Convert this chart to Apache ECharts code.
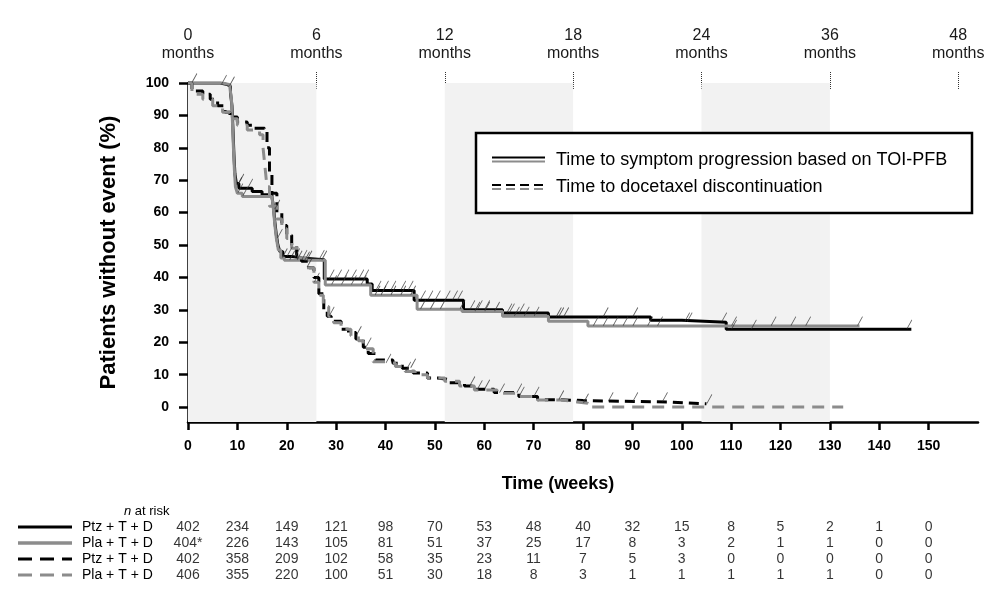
<!DOCTYPE html>
<html><head><meta charset="utf-8">
<script src="https://cdn.jsdelivr.net/npm/echarts@6/dist/echarts.min.js"></script>
<style>html,body{margin:0;padding:0;background:#fff}#c{width:1005px;height:597px}</style>
</head><body><div id="c"></div><script>
// ---------- data ----------
const weekTicks = [0,10,20,30,40,50,60,70,80,90,100,110,120,130,140,150];
const pctTicks = [0,10,20,30,40,50,60,70,80,90,100];
const monthWeeks = [0,26,52,78,104,130,156];
const monthLabels = ['0','6','12','18','24','36','48'];
const bandRanges = [[0,26],[52,78],[104,130]];

// Time to symptom progression (TOI-PFB) – [week, % without event]
const toiPtz = [[0,100],[6.5,99.5],[8,99],[8.6,97],[8.9,93],[9.1,86],[9.3,78],[9.5,72],[9.8,69],[10.3,67.5],[13,66.5],[15,65.5],[17,64.8],[17.3,62],[17.6,57],[17.9,53],[18.2,50],[18.6,48],[19.2,46.5],[21,46],[23,45.5],[27.6,39.5],[36.3,38],[37.3,36],[45.8,33],[55.8,30],[63.7,29],[73,27.8],[93.7,26.8],[100,26.2],[109,24],[146.5,24]];
const toiPla = [[0,100],[7,99.5],[8.5,98.5],[8.8,95],[9.0,88],[9.2,80],[9.4,73],[9.6,68],[10,66],[11,65],[17,64.5],[17.3,61],[17.6,56],[17.9,52],[18.3,48.5],[18.8,46],[19.5,45.3],[27.8,37.7],[37,34.5],[46.4,30.2],[55.5,29.5],[63.7,28],[73,26.5],[81,25],[136,25]];
// Time to docetaxel discontinuation
const docPtz = [[0,100],[0.8,97.5],[3,96.5],[4.5,95],[6,93],[7.5,91],[8.5,89.5],[10,88],[12,87],[13,86],[15.5,85],[16,80],[16.5,72],[17,66],[18,60],[19,56],[20,53],[21,50],[22,47],[23,45],[24.5,43],[25.5,40],[26.5,35],[27.5,30],[28.2,28],[29,26.5],[31,24],[32.5,23],[34,21],[35.5,18.5],[36.5,16.5],[38,14.5],[41.5,13.5],[43.4,12],[45.6,10.5],[48.5,9],[50.5,8.5],[53,7.5],[56,6.5],[58,5.5],[62,4.5],[67,3.3],[70.8,2.3],[75,2],[80,1.6],[97,1.0],[105,1.0]];
const docPla = [[0,100],[0.8,96.5],[3,95],[5,93],[7,91],[8.5,89],[10,87],[12,85.5],[14.5,84],[15.2,80],[15.6,74],[16,68],[16.5,62],[18,58],[19,55],[20,52],[21,49],[22.5,46],[24,43],[25.5,38.5],[26.5,34.5],[27.4,31],[28.5,28],[29.5,26],[31,24],[33,22],[34.5,20.5],[35.5,18],[37.5,14],[40,13.5],[42,12.5],[44,11],[46,10],[48.5,9],[52,8],[55,6.5],[58,5.3],[62.6,4.3],[67,3.3],[70.8,2.2],[75.5,1.6],[78.8,1.2],[81,0],[132.7,0]];

// censoring times (weeks)
const censPtzToi = [0.7,6.7,8.3,10.2,12,20,21.5,23,26.5,28.5,30,31.5,33,34.5,35.5,38,39.5,41,43,44.5,47,48.5,50,52,53.5,54.5,57,58.5,60,64.5,65,67,74.5,75,76,84,90,100.5,101,108,110,114,145.5];
const censPlaToi = [9.8,10,11,17.5,18,19,20.5,22,24,27,29,31,33,35,37.8,39,41,43,45,47,49,51,55,58,60,62,66,68,70,82,84,86,88,90,93,95,110,118,122,125,135.5];
const censPtzDoc = [23.5,36,45,57,60,67,85,90,96,105];
const censPlaDoc = [24,25.5,28.5,34,40,44,58.5,63,66.5,70,75,80];

// n at risk
const riskWeeks = [0,10,20,30,40,50,60,70,80,90,100,110,120,130,140,150];
const riskNames = ['Ptz + T + D','Pla + T + D','Ptz + T + D','Pla + T + D'];
const riskPtzToi = ['402','234','149','121','98','70','53','48','40','32','15','8','5','2','1','0'];
const riskPlaToi = ['404*','226','143','105','81','51','37','25','17','8','3','2','1','1','0','0'];
const riskPtzDoc = ['402','358','209','102','58','35','23','11','7','5','3','0','0','0','0','0'];
const riskPlaDoc = ['406','355','220','100','51','30','18','8','3','1','1','1','1','1','0','0'];

// ---------- chart ----------
const FONT = '"Liberation Sans", Arial, Helvetica, sans-serif';
const BLACK = '#000000', GREY = '#8c8c8c';
function valueAt(curve, t){ let v = curve[0][1]; for (const p of curve){ if (p[0] <= t) v = p[1]; } return v; }
function censorSeries(curve, times){
  return {type:'scatter', xAxisIndex:0, yAxisIndex:0, z:4, silent:true,
    symbol:'path://M0,10L5,0', symbolSize:[5,9], symbolOffset:[3,-5],
    itemStyle:{color:'rgba(0,0,0,0)', borderColor:'#333', borderWidth:0.9},
    data: times.map(t => [t, valueAt(curve, t)])};
}
function kmSeries(data, color, width, dash){
  return {type:'line', xAxisIndex:0, yAxisIndex:0, step:'end', showSymbol:false, symbol:'none', z:3, silent:true,
    lineStyle:{color, width, type: dash || 'solid', cap:'butt'}, data};
}
function riskSeries(row, values){
  return {type:'scatter', xAxisIndex:2, yAxisIndex:2, symbolSize:1, silent:true,
    itemStyle:{color:'rgba(0,0,0,0)'},
    label:{show:true, position:'inside', fontFamily:FONT, fontSize:14, color:'#000',
      formatter: p => values[p.dataIndex]},
    data: riskWeeks.map(w => [w, row])};
}

const chart = echarts.init(document.getElementById('c'), null, {renderer:'canvas'});
const option = {
  animation:false,
  backgroundColor:'#ffffff',
  textStyle:{fontFamily:FONT},
  grid:[
    {left:188, right:27, top:83, height:339},
    {left:188, right:27, top:72, height:18},
    {left:188, right:27, top:519, height:64}
  ],
  xAxis:[
    {gridIndex:0, type:'value', min:0, max:160,
      axisLine:{show:true, onZero:false, lineStyle:{color:'#000', width:2.5}},
      axisTick:{show:true, inside:false, customValues:weekTicks, length:8, lineStyle:{color:'#000', width:2.5}},
      axisLabel:{customValues:weekTicks, fontFamily:FONT, fontWeight:'bold', fontSize:14, color:'#000', margin:17},
      splitLine:{show:false}},
    {gridIndex:1, type:'value', position:'top', min:0, max:160, interval:26,
      axisLine:{show:false}, axisTick:{show:false},
      axisLabel:{fontFamily:FONT, fontSize:16, lineHeight:18, color:'#1a1a1a', margin:9,
        formatter: v => { const i = monthWeeks.indexOf(v); return i < 0 ? '' : monthLabels[i] + '\nmonths'; }},
      splitLine:{show:true, showMinLine:false, showMaxLine:false, lineStyle:{type:'dotted', color:'#333', width:1}}},
    {gridIndex:2, type:'value', min:0, max:160, show:false}
  ],
  yAxis:[
    {gridIndex:0, type:'value', min:-4.6, max:100,
      axisLine:{show:true, onZero:false, lineStyle:{color:'#000', width:2.5}},
      axisTick:{show:true, customValues:pctTicks, length:9, lineStyle:{color:'#000', width:2.5}},
      axisLabel:{customValues:pctTicks, fontFamily:FONT, fontWeight:'bold', fontSize:14, color:'#000', margin:19},
      splitLine:{show:false},
      name:'Patients without event (%)', nameLocation:'middle', nameGap:68, nameRotate:90,
      nameTextStyle:{fontFamily:FONT, fontWeight:'bold', fontSize:22, color:'#000'}},
    {gridIndex:1, type:'value', min:0, max:1, show:false},
    {gridIndex:2, type:'category', data:[0,1,2,3], inverse:true,
      axisLine:{show:false}, axisTick:{show:false}, splitLine:{show:false},
      axisLabel:{interval:0, align:'left', margin:106, fontFamily:FONT, fontSize:14, color:'#000',
        formatter: v => riskNames[Number(v)]}}
  ],
  series:[
    {type:'line', xAxisIndex:0, yAxisIndex:0, data:[], z:1, silent:true,
      markArea:{silent:true, itemStyle:{color:'#f2f2f2'},
        data: bandRanges.map(r => [{xAxis:r[0]},{xAxis:r[1]}])}},
    kmSeries(toiPtz, BLACK, 3),
    kmSeries(toiPla, GREY, 3),
    kmSeries(docPtz, BLACK, 3, [10,6]),
    kmSeries(docPla, GREY, 3, [12,8]),
    censorSeries(toiPtz, censPtzToi),
    censorSeries(toiPla, censPlaToi),
    censorSeries(docPtz, censPtzDoc),
    censorSeries(docPla, censPlaDoc),
    riskSeries(0, riskPtzToi),
    riskSeries(1, riskPlaToi),
    riskSeries(2, riskPtzDoc),
    riskSeries(3, riskPlaDoc)
  ],
  graphic:[
    {type:'rect', z:50, shape:{x:476, y:133, width:496, height:80},
      style:{fill:'#fff', stroke:'#000', lineWidth:2.5}},
    {type:'line', z:51, shape:{x1:492, y1:157.5, x2:545, y2:157.5}, style:{stroke:BLACK, lineWidth:2}},
    {type:'line', z:51, shape:{x1:492, y1:161.5, x2:545, y2:161.5}, style:{stroke:GREY, lineWidth:2}},
    {type:'text', z:51, x:556, y:160, style:{text:'Time to symptom progression based on TOI-PFB', font:'18px '+FONT, fill:'#000', textVerticalAlign:'middle', verticalAlign:'middle'}},
    {type:'line', z:51, shape:{x1:492, y1:185, x2:545, y2:185}, style:{stroke:BLACK, lineWidth:2, lineDash:[9,5]}},
    {type:'line', z:51, shape:{x1:492, y1:189, x2:545, y2:189}, style:{stroke:GREY, lineWidth:2, lineDash:[9,5]}},
    {type:'text', z:51, x:556, y:187, style:{text:'Time to docetaxel discontinuation', font:'18px '+FONT, fill:'#000', textVerticalAlign:'middle', verticalAlign:'middle'}},
    {type:'text', z:51, x:558, y:484, style:{text:'Time (weeks)', font:'bold 18px '+FONT, fill:'#000', textAlign:'center', align:'center', textVerticalAlign:'middle', verticalAlign:'middle'}},
    {type:'text', z:51, x:124, y:511, style:{text:'{i|n} at risk', font:'13px '+FONT, fill:'#000', textVerticalAlign:'middle', verticalAlign:'middle',
      rich:{i:{fontStyle:'italic', fontSize:13, fontFamily:FONT}}}},
    {type:'line', z:51, shape:{x1:18, y1:527, x2:72, y2:527}, style:{stroke:BLACK, lineWidth:3}},
    {type:'line', z:51, shape:{x1:18, y1:543, x2:72, y2:543}, style:{stroke:GREY, lineWidth:3.5}},
    {type:'line', z:51, shape:{x1:18, y1:559, x2:72, y2:559}, style:{stroke:BLACK, lineWidth:3, lineDash:[14,8]}},
    {type:'line', z:51, shape:{x1:18, y1:575, x2:72, y2:575}, style:{stroke:GREY, lineWidth:3, lineDash:[14,8]}}
  ]
};
chart.setOption(option);
</script></body></html>
